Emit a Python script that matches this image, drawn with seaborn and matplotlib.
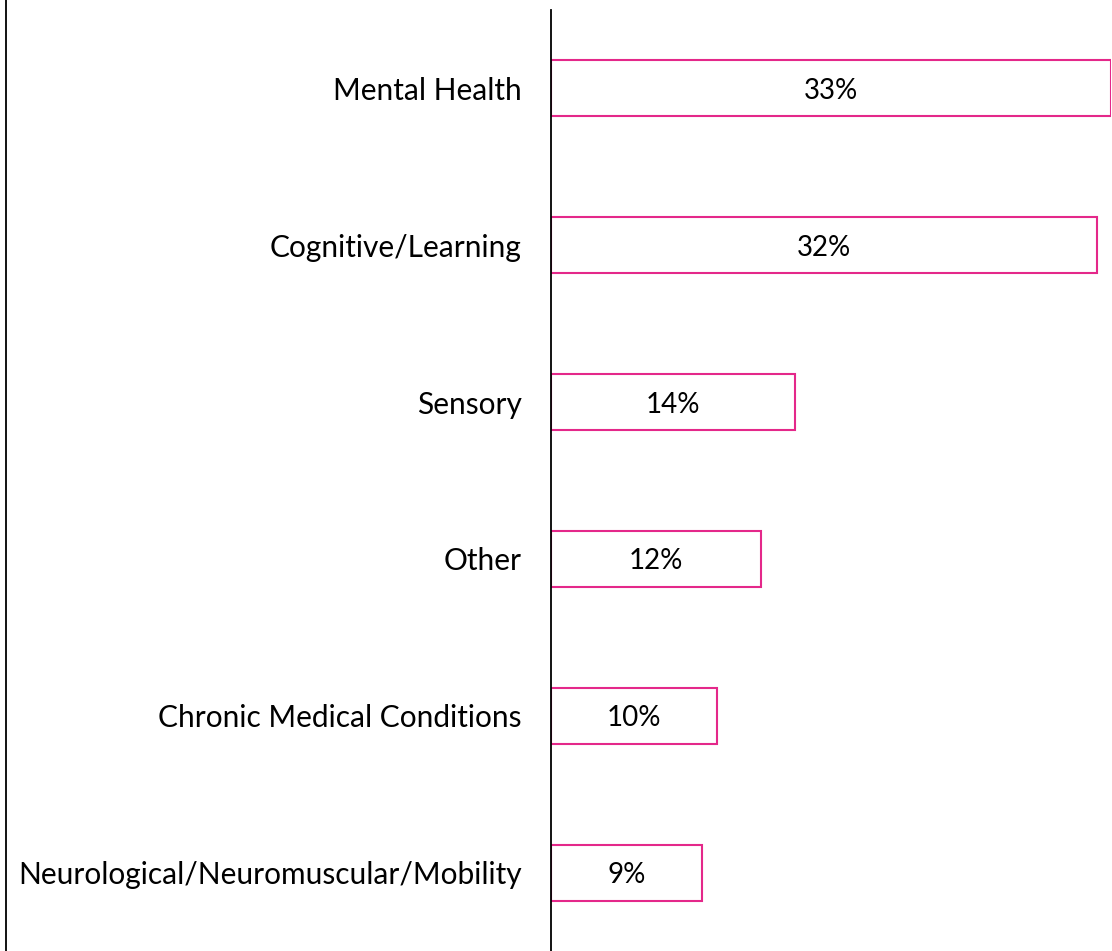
import seaborn as sns
import matplotlib.pyplot as plt
from matplotlib.lines import Line2D
import pandas as pd

categories = ["Mental Health", "Cognitive/Learning", "Sensory", "Other",
              "Chronic Medical Conditions", "Neurological/Neuromuscular/Mobility"]
values = [33.1, 32.3, 14.4, 12.4, 9.8, 8.9]
labels = ["33%", "32%", "14%", "12%", "10%", "9%"]

df = pd.DataFrame({"category": categories, "value": values})

sns.set_style("white")
plt.rcParams['font.family'] = ['Lato', 'DejaVu Sans']

pink = "#E4288A"

fig = plt.figure(figsize=(11.12, 9.51), dpi=100)
ax = fig.add_axes([551 / 1112, 0, 560 / 1112, 941 / 951])

sns.barplot(data=df, x="value", y="category", orient="h", color="white",
            edgecolor=pink, linewidth=1.5, width=0.357, ax=ax)

# percentage labels inside the bars
for i, (v, lab) in enumerate(zip(values, labels)):
    ax.text(v / 2, i, lab, ha="center", va="center_baseline",
            fontsize=20, color="black")

ax.set_xlim(0, 33.1)
ax.set_ylim(5.5, -0.5)
ax.set_xlabel("")
ax.set_ylabel("")
ax.set_xticks([])
ax.tick_params(axis="y", length=0, pad=21, labelsize=21.5, labelcolor="black")
for s in ["top", "right", "bottom"]:
    ax.spines[s].set_visible(False)
ax.spines["left"].set_color("black")
ax.spines["left"].set_linewidth(1.3)

# frame line on the far left
fig.add_artist(Line2D([5.5 / 1112, 5.5 / 1112], [0, 1], transform=fig.transFigure,
                      color="black", linewidth=1.3))

fig.savefig("out.png", dpi=100)
